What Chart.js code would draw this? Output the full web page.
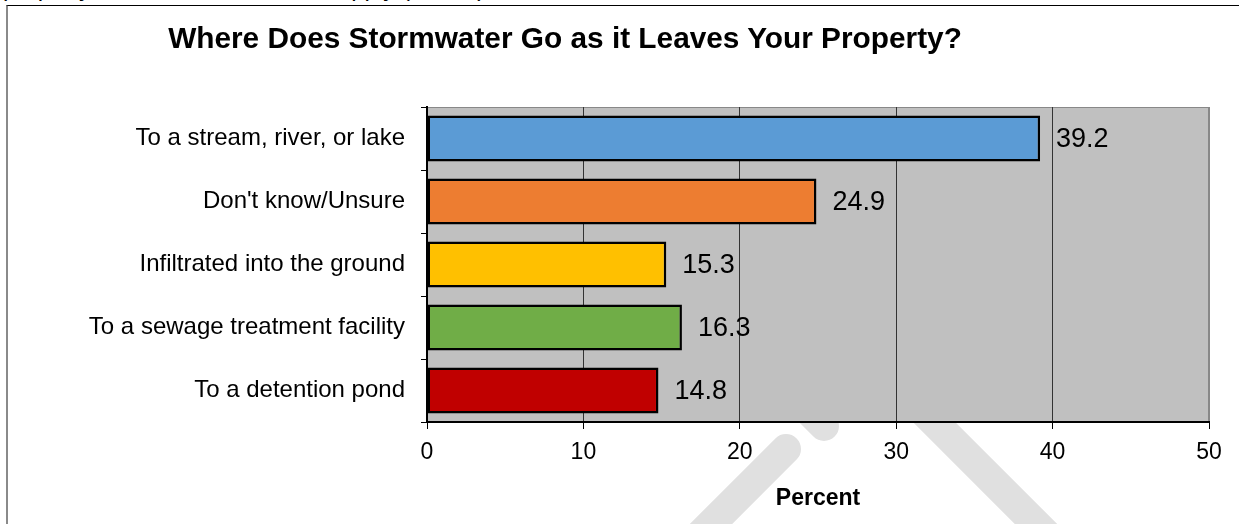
<!DOCTYPE html>
<html>
<head>
<meta charset="utf-8">
<script src="https://cdn.jsdelivr.net/npm/chart.js@4.4.1/dist/chart.umd.min.js"></script>
<style>
  body { margin: 0; background: #fff; overflow: hidden; }
  #wrap { position: relative; width: 1241px; height: 524px; overflow: hidden; font-family: "Liberation Sans", Arial, sans-serif; }
  #question { position: absolute; left: 3px; top: -24px; font-size: 24px; line-height: 1; white-space: nowrap; color: #000; }
  #frame { position: absolute; left: 6px; top: 5px; width: 1231px; height: 540px; border-top: 1px solid #000; border-left: 2px solid #8a8a8a; }
  #title { position: absolute; left: 0; top: 23px; width: 1130px; text-align: center; font-size: 29.8px; font-weight: bold; line-height: 1; white-space: nowrap; color: #000; }
  #myChart { position: absolute; left: 0; top: 0; }
</style>
</head>
<body>
<div id="wrap">
  <div id="question">property? Please check all that apply (n=451)</div>
  <div id="frame"></div>
  <canvas id="myChart" width="1241" height="524"></canvas>
  <div id="title">Where Does Stormwater Go as it Leaves Your Property?</div>
</div>
<script>
// data
var categories = [
  "To a stream, river, or lake",
  "Don't know/Unsure",
  "Infiltrated into the ground",
  "To a sewage treatment facility",
  "To a detention pond"
];
var percents = [39.2, 24.9, 15.3, 16.3, 14.8];
var barColors = ["#5b9bd5", "#ed7d31", "#ffc000", "#70ad47", "#c00000"];
var axisMin = 0;
var axisMax = 50;
var axisStep = 10;

Chart.defaults.font.family = '"Liberation Sans", Arial, sans-serif';
Chart.defaults.color = "#000";

// grey plot background, frame and the faint watermark strokes behind everything
var plotBackground = {
  id: "plotBackground",
  beforeDraw: function(chart) {
    var ctx = chart.ctx;
    var a = chart.chartArea;
    ctx.save();
    ctx.strokeStyle = "#e0e0e0";
    ctx.lineWidth = 30;
    ctx.lineCap = "round";
    ctx.beginPath();
    ctx.moveTo(786, 449); ctx.lineTo(690, 545);
    ctx.moveTo(824, 426); ctx.lineTo(760, 362);
    ctx.moveTo(900, 388); ctx.lineTo(1060, 548);
    ctx.stroke();
    ctx.fillStyle = "#c0c0c0";
    ctx.fillRect(a.left, a.top, a.right - a.left, a.bottom - a.top);
    ctx.strokeStyle = "#888";
    ctx.lineWidth = 1;
    ctx.strokeRect(a.left + 0.5, a.top + 0.5, a.right - a.left - 1, a.bottom - a.top - 1);
    ctx.restore();
  }
};

// value labels to the right of each bar
var valueLabels = {
  id: "valueLabels",
  afterDatasetsDraw: function(chart) {
    var ctx = chart.ctx;
    var meta = chart.getDatasetMeta(0);
    ctx.save();
    ctx.font = '27px "Liberation Sans", Arial, sans-serif';
    ctx.fillStyle = "#000";
    ctx.textAlign = "left";
    ctx.textBaseline = "middle";
    meta.data.forEach(function(bar, i) {
      ctx.fillText(percents[i].toFixed(1), bar.x + 16, bar.y + 1);
    });
    ctx.restore();
  }
};

new Chart("myChart", {
  type: "bar",
  data: {
    labels: categories,
    datasets: [{
      data: percents,
      backgroundColor: barColors,
      borderColor: "#000",
      borderWidth: 2.5,
      borderSkipped: false,
      barPercentage: 0.73,
      categoryPercentage: 1
    }]
  },
  options: {
    indexAxis: "y",
    responsive: false,
    animation: false,
    devicePixelRatio: 1,
    layout: { padding: { top: 107, right: 32, left: 0, bottom: 0 } },
    plugins: {
      legend: { display: false },
      tooltip: { enabled: false },
      title: { display: false }
    },
    scales: {
      x: {
        min: axisMin,
        max: axisMax,
        ticks: { stepSize: axisStep, padding: 10, font: { size: 23 } },
        grid: {
          color: function(c) { return c.tick && c.tick.value === axisMax ? "#888" : "#333"; },
          lineWidth: 1,
          tickLength: 7,
          tickColor: "#000"
        },
        border: { display: true, color: "#000", width: 2 },
        title: {
          display: true,
          text: "Percent",
          font: { size: 23, weight: "bold" },
          padding: { top: 0, bottom: 12 }
        },
        afterFit: function(s) { s.height = 102; }
      },
      y: {
        ticks: { padding: 16, font: { size: 24 } },
        grid: {
          offset: true,
          drawOnChartArea: false,
          tickLength: 6,
          color: "#000",
          tickColor: "#000"
        },
        border: { display: true, color: "#000", width: 2 },
        afterFit: function(s) { s.width = 427; }
      }
    }
  },
  plugins: [plotBackground, valueLabels]
});
</script>
</body>
</html>
